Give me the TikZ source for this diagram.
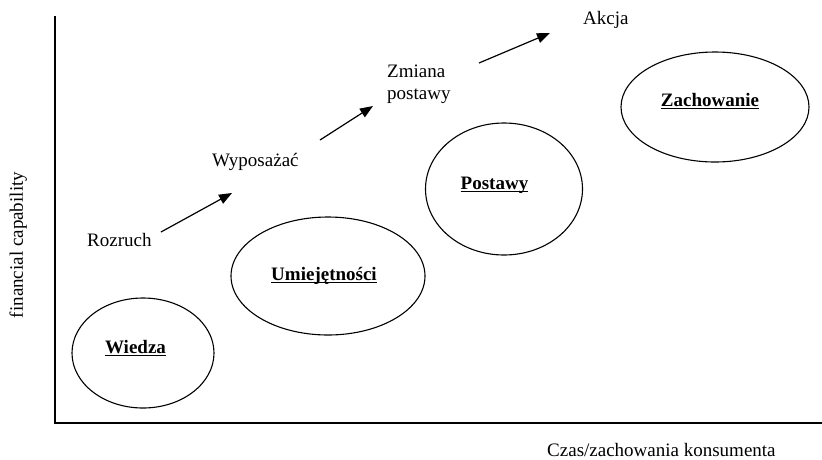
\documentclass[tikz,border=0pt]{standalone}
\usepackage{fontspec}
\setmainfont{Liberation Serif}
\usetikzlibrary{shapes.geometric,arrows.meta}
\newcommand{\myul}[1]{\leavevmode\setbox0=\hbox{#1}\rlap{\vrule height -1.6pt depth 2.7pt width \wd0}\box0}
\begin{document}
\begin{tikzpicture}[x=1pt,y=-1pt,
  txt/.style={font=\fontsize{19}{22}\selectfont, inner sep=0pt},
  bld/.style={font=\fontsize{19}{22}\selectfont\bfseries, inner sep=0pt, anchor=base},
  blob/.style={ellipse, draw, line width=1.1pt, inner sep=0pt},
  axisline/.style={line width=1.3pt},
  arr/.style={line width=1.2pt, -{Triangle[length=13pt,width=10pt]}}]
\useasboundingbox (0,0) rectangle (822,459);
% axes
\coordinate (ytop) at (55,16);
\coordinate (orig) at (55,423);
\coordinate (xend) at (822,423);
\draw[axisline] (ytop) -- (orig) -- (xend);
% axis labels
\node[txt, rotate=90, anchor=base] (ylab) at (23,245) {financial capability};
\node[txt, anchor=base west] (xlab) at (547,456) {Czas/zachowania konsumenta};
% ellipses
\node[blob, minimum width=142pt, minimum height=110pt] (wiedzaE) at (143,353) {};
\node[blob, minimum width=194pt, minimum height=118pt] (umiejE) at (328,276) {};
\node[blob, minimum width=157pt, minimum height=132pt] (postE) at (504,189) {};
\node[blob, minimum width=188pt, minimum height=110pt] (zachE) at (715,107) {};
% ellipse labels
\node[bld] (wiedza) at (135.5,353) {\myul{Wiedza}};
\node[bld] (umiej) at (324,280) {\myul{Umiejętności}};
\node[bld] (postawy) at (494.5,189) {\myul{Postawy}};
\node[bld] (zach) at (710,106) {\myul{Zachowanie}};
% stage labels
\node[txt, anchor=base west] (rozruch) at (87,246) {Rozruch};
\node[txt, anchor=base west] (wypos) at (212,166) {Wyposażać};
\node[txt, anchor=base west] (zmiana) at (387,77) {Zmiana};
\node[txt, anchor=base west] (postawy2) at (387,99) {postawy};
\node[txt, anchor=base west] (akcja) at (583,24) {Akcja};
% arrows
\coordinate (a1s) at (161,232);
\coordinate (a1e) at (232,193);
\coordinate (a2s) at (320,140);
\coordinate (a2e) at (373,106);
\coordinate (a3s) at (479,63);
\coordinate (a3e) at (550,33);
\draw[arr] (a1s) -- (a1e);
\draw[arr] (a2s) -- (a2e);
\draw[arr] (a3s) -- (a3e);
\end{tikzpicture}
\end{document}
